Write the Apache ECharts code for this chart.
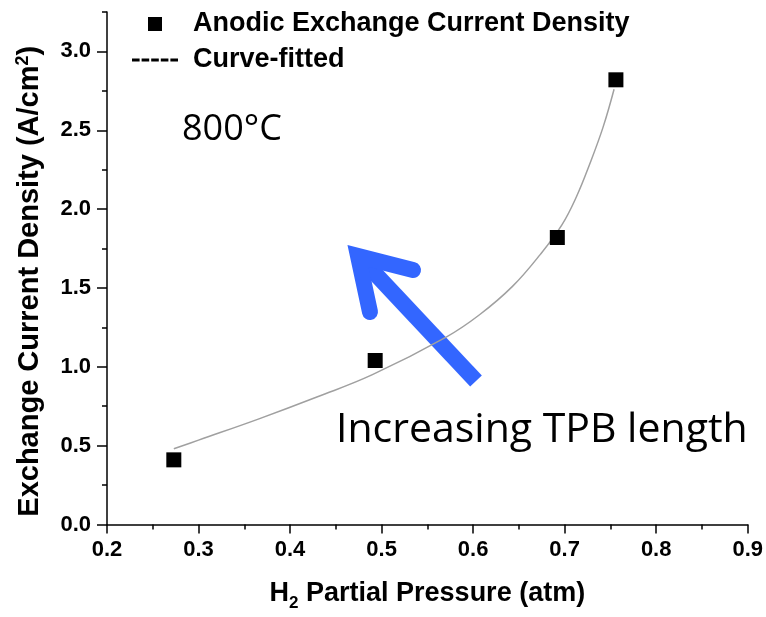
<!DOCTYPE html>
<html>
<head>
<meta charset="utf-8">
<script src="https://cdn.jsdelivr.net/npm/echarts@6/dist/echarts.min.js"></script>
<style>
  html, body { margin: 0; padding: 0; background: #fff; }
  #chart { width: 766px; height: 617px; }
</style>
</head>
<body>
<div id="chart"></div>
<script>
// measured points
const pressure = [0.273, 0.493, 0.692, 0.756]
const density = [0.41, 1.04, 1.82, 2.82]

// fitted curve
const fitX = [0.273, 0.30, 0.366, 0.43, 0.49, 0.571, 0.607, 0.643, 0.673, 0.697, 0.713, 0.727, 0.742, 0.754]
const fitY = [0.48, 0.535, 0.67, 0.81, 0.95, 1.19, 1.33, 1.51, 1.71, 1.90, 2.08, 2.28, 2.52, 2.76]

const yMajor = [0, 0.5, 1.0, 1.5, 2.0, 2.5, 3.0]
const yMinor = [0, 0.25, 0.5, 0.75, 1.0, 1.25, 1.5, 1.75, 2.0, 2.25, 2.5, 2.75, 3.0, 3.25]

const FONT = '"Liberation Sans", Arial, sans-serif'
const NOTE_FONT = '"Open Sans", "Noto Sans", sans-serif'
const BLUE = '#3366ff'

const chart = echarts.init(document.getElementById('chart'))

const option = {
  animation: false,
  backgroundColor: '#fff',
  grid: { left: 107, right: 18, top: 12, bottom: 91 },
  legend: {
    orient: 'vertical',
    left: 127,
    top: 5,
    itemWidth: 46,
    itemHeight: 14,
    itemGap: 8,
    selectedMode: false,
    textStyle: {
      fontFamily: FONT,
      fontWeight: 'bold',
      fontSize: 27,
      color: '#000',
      lineHeight: 28,
      padding: [0, 0, 0, 10]
    },
    data: [
      { name: 'Anodic Exchange Current Density', icon: 'path://M0,0h14v14h-14z', itemStyle: { color: '#000', opacity: 1 } },
      {
        name: 'Curve-fitted',
        icon: 'path://M0,0h7.6v3h-7.6zM9.6,0h7.6v3h-7.6zM19.2,0h7.6v3h-7.6zM28.8,0h7.6v3h-7.6zM38.4,0h7.6v3h-7.6z',
        itemStyle: { color: '#000' }
      }
    ]
  },
  xAxis: {
    type: 'value',
    min: 0.2,
    max: 0.9,
    interval: 0.1,
    name: '{b|H}{s|2}{b| Partial Pressure (atm)}',
    nameLocation: 'middle',
    nameGap: 53,
    nameTextStyle: {
      rich: {
        b: { fontFamily: FONT, fontWeight: 'bold', fontSize: 27, color: '#000', lineHeight: 32 },
        s: { fontFamily: FONT, fontWeight: 'bold', fontSize: 17, color: '#000', lineHeight: 32, padding: [20, 0, 0, 0] }
      }
    },
    axisLine: { lineStyle: { color: '#000', width: 1.5 } },
    axisTick: { length: 9, lineStyle: { color: '#000', width: 1.5 } },
    minorTick: { show: true, splitNumber: 2, length: 5, lineStyle: { color: '#000', width: 1.5 } },
    splitLine: { show: false },
    axisLabel: {
      margin: 14,
      fontFamily: FONT,
      fontWeight: 'bold',
      fontSize: 22,
      color: '#000',
      formatter: v => v.toFixed(1)
    }
  },
  yAxis: [
    {
      type: 'value',
      min: 0,
      max: 3.25,
      interval: 0.25,
      axisLine: { show: true, lineStyle: { color: '#000', width: 1.5 } },
      axisTick: { show: true, length: 5, customValues: yMinor, lineStyle: { color: '#000', width: 1.5 } },
      axisLabel: { show: false },
      splitLine: { show: false }
    },
    {
      type: 'value',
      min: 0,
      max: 3.25,
      position: 'left',
      name: '{b|Exchange Current Density (A/cm}{p|2}{b|)}',
      nameLocation: 'middle',
      nameGap: 60,
      nameTextStyle: {
        padding: [0, 26, 0, 0],
        rich: {
          b: { fontFamily: FONT, fontWeight: 'bold', fontSize: 29, color: '#000', lineHeight: 34 },
          p: { fontFamily: FONT, fontWeight: 'bold', fontSize: 18, color: '#000', lineHeight: 34, padding: [0, 0, 14, 0] }
        }
      },
      axisLine: { show: false },
      axisTick: { show: true, length: 10, customValues: yMajor, lineStyle: { color: '#000', width: 1.5 } },
      axisLabel: {
        customValues: yMajor,
        margin: 16,
        fontFamily: FONT,
        fontWeight: 'bold',
        fontSize: 22,
        color: '#000',
        formatter: v => v.toFixed(1)
      },
      splitLine: { show: false }
    }
  ],
  graphic: [
    {
      type: 'text',
      left: 182,
      top: 112,
      style: { text: '800°C', font: '36px ' + NOTE_FONT, fill: '#000' }
    },
    {
      type: 'text',
      left: 336,
      top: 410,
      style: { text: 'Increasing TPB length', font: '41px ' + NOTE_FONT, fill: '#000' }
    },
    // arrow shaft
    {
      type: 'polyline',
      shape: { points: [[476, 381], [368, 266]] },
      style: { stroke: BLUE, lineWidth: 16, lineCap: 'butt', fill: null }
    },
    // arrow head
    {
      type: 'polyline',
      shape: { points: [[413, 270], [358, 256], [370, 312]] },
      style: { stroke: BLUE, lineWidth: 16, lineCap: 'round', lineJoin: 'miter', fill: null }
    }
  ],
  series: [
    {
      name: 'Curve-fitted',
      type: 'line',
      data: fitX.map((x, i) => [x, fitY[i]]),
      smooth: 0.4,
      symbol: 'none',
      lineStyle: { color: '#a0a0a0', width: 1.5 },
      itemStyle: { color: '#a0a0a0' },
      z: 2
    },
    {
      name: 'Anodic Exchange Current Density',
      type: 'scatter',
      data: pressure.map((x, i) => [x, density[i]]),
      symbol: 'rect',
      symbolSize: 15,
      itemStyle: { color: '#000', opacity: 1 },
      z: 3
    }
  ]
}

chart.setOption(option)
</script>
</body>
</html>
